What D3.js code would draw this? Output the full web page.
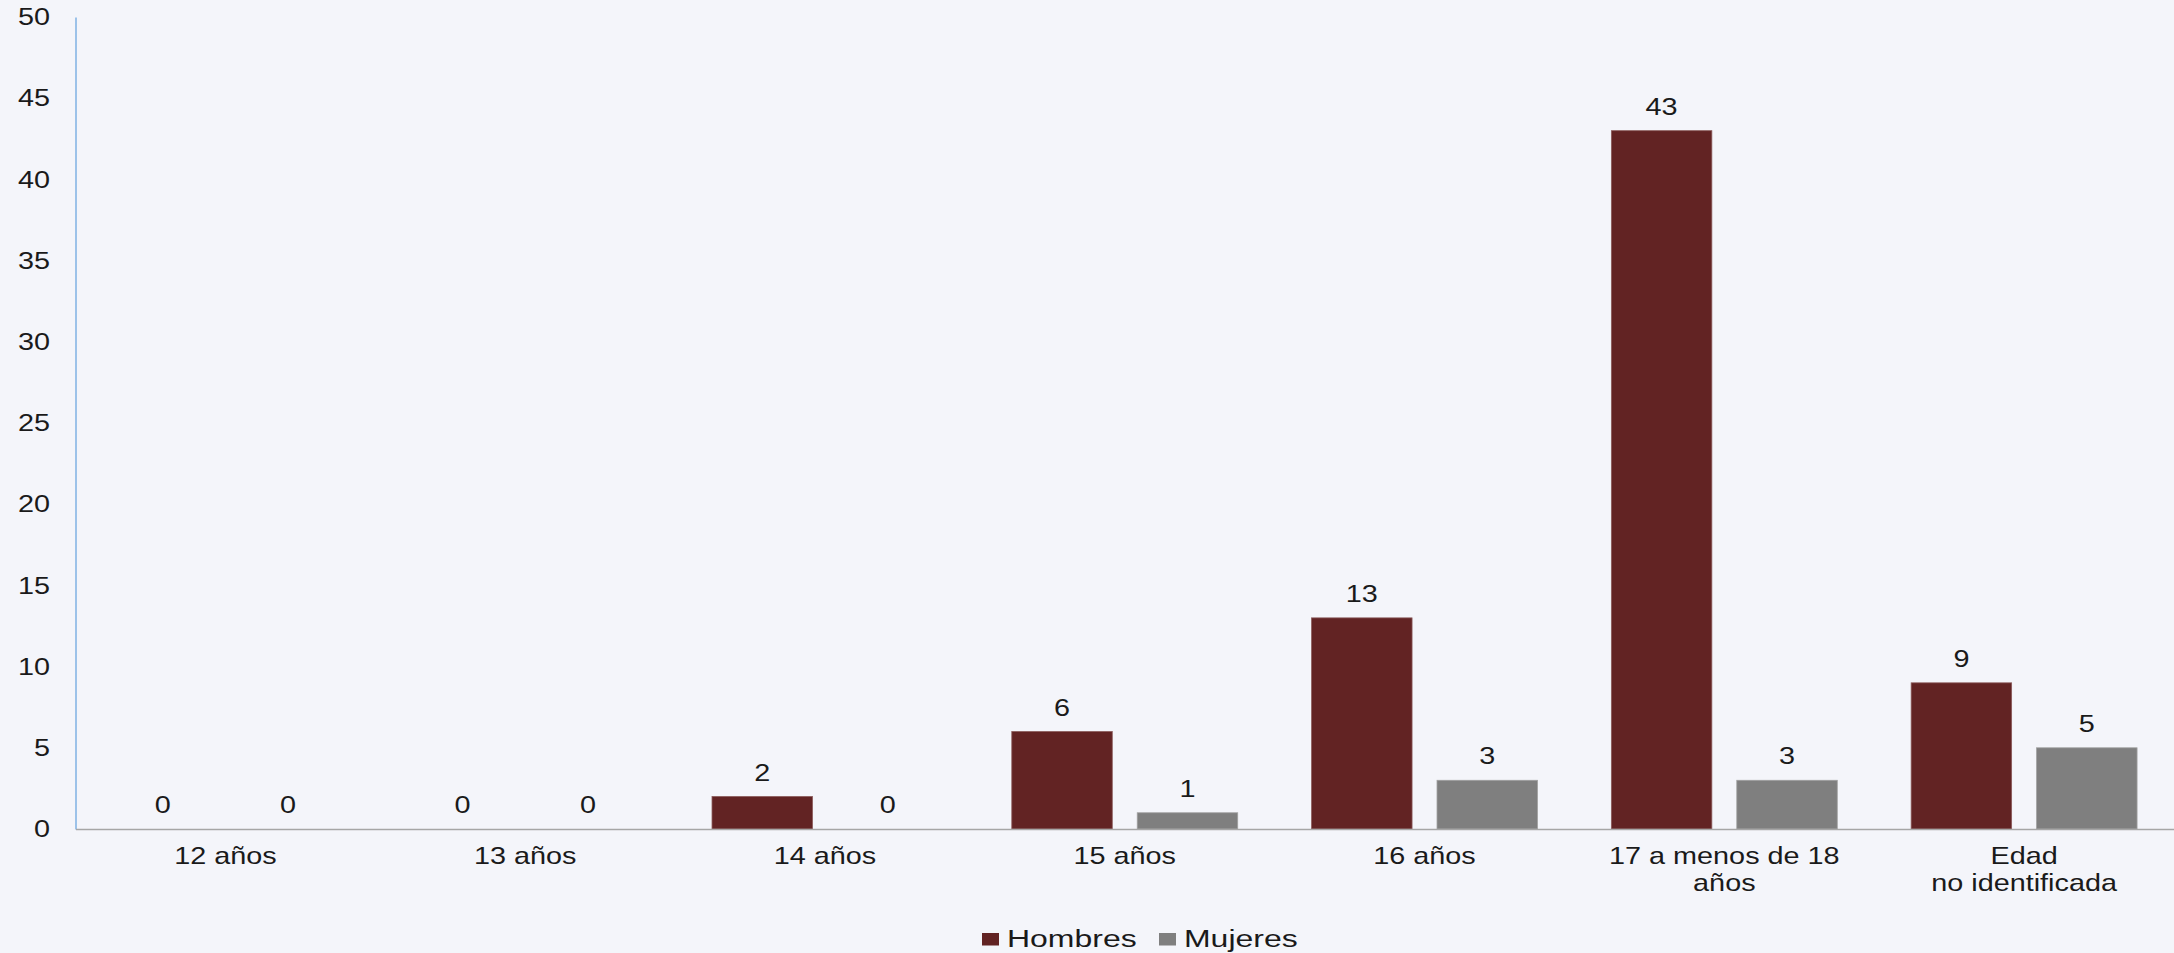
<!DOCTYPE html>
<html>
<head>
<meta charset="utf-8">
<script src="https://cdn.jsdelivr.net/npm/d3@7"></script>
<style>
  html, body { margin: 0; padding: 0; background: #F4F5FA; }
  svg { display: block; font-family: "Liberation Sans", Arial, sans-serif; }
</style>
</head>
<body>
<svg id="chart" width="2174" height="953"></svg>
<script>
const categories = ["12 años", "13 años", "14 años", "15 años", "16 años", "17 a menos de 18\naños", "Edad\nno identificada"];
const seriesNames = ["Hombres", "Mujeres"];
const hombres = [0, 0, 2, 6, 13, 43, 9];
const mujeres = [0, 0, 0, 1, 3, 3, 5];
const yTicks = [0, 5, 10, 15, 20, 25, 30, 35, 40, 45, 50];
const colors = { Hombres: "#622323", Mujeres: "#7F7F7F" };

(function () {
const W = 2174, H = 953;
const mLeft = 75.5, mRight = 2174, mTop = 17, mBottom = 829;
const SX = 1.2;      // horizontal stretch of text seen in the reference
const SXL = 1.36;    // legend text stretch

const svg = d3.select("#chart");
svg.append("rect").attr("width", W).attr("height", H).attr("fill", "#F4F5FA");

const x = d3.scaleBand().domain(categories).range([mLeft, mRight]).paddingInner(0).paddingOuter(0);
const xs = d3.scaleBand().domain(seriesNames).range([0, x.bandwidth()]).paddingInner(0.199).paddingOuter(0.2945);
const y = d3.scaleLinear().domain([0, 50]).range([mBottom, mTop]);

const data = categories.map((c, i) => ({ cat: c, vals: [
  { s: "Hombres", v: hombres[i] }, { s: "Mujeres", v: mujeres[i] } ] }));

// bars
const groups = svg.append("g").selectAll("g").data(data).join("g")
  .attr("transform", d => `translate(${x(d.cat)},0)`);
groups.selectAll("rect").data(d => d.vals).join("rect")
  .attr("x", d => xs(d.s))
  .attr("width", xs.bandwidth())
  .attr("y", d => y(d.v))
  .attr("height", d => y(0) - y(d.v))
  .attr("fill", d => colors[d.s])
  .attr("stroke", d => d.s === "Hombres" ? "#8a5a5a" : "#a0a0a0")
  .attr("stroke-width", d => d.v > 0 ? 0.8 : 0);

// data labels
groups.selectAll("g.lbl").data(d => d.vals).join("g").attr("class", "lbl")
  .attr("transform", d => `translate(${xs(d.s) + xs.bandwidth() / 2},${y(d.v) - 16})`)
  .append("text")
  .attr("transform", `scale(${SX},1)`)
  .attr("text-anchor", "middle")
  .attr("font-size", 24)
  .attr("fill", "#1a1a1a")
  .text(d => d.v);

// y axis
const yAxis = svg.append("g").attr("transform", `translate(${mLeft},0)`)
  .call(d3.axisLeft(y).tickValues(yTicks).tickSize(0).tickPadding(0));
yAxis.select(".domain").attr("stroke", "#7FB1E3").attr("stroke-width", 1.5);
yAxis.selectAll("text")
  .attr("x", -25.5 / SX)
  .attr("transform", `scale(${SX},1)`)
  .attr("font-size", 24)
  .attr("font-family", "Liberation Sans, Arial, sans-serif")
  .attr("fill", "#1a1a1a");

// x axis
const xAxis = svg.append("g").attr("transform", `translate(0,${mBottom})`)
  .call(d3.axisBottom(x).tickSize(0).tickPadding(0).tickFormat(""));
xAxis.select(".domain").attr("stroke", "#A6A6A6").attr("stroke-width", 1.5);
xAxis.selectAll(".tick text").each(function(d) {
  const t = d3.select(this)
    .attr("transform", `scale(${SX},1)`)
    .attr("y", 0).attr("dy", null)
    .attr("font-size", 24)
    .attr("font-family", "Liberation Sans, Arial, sans-serif")
    .attr("fill", "#1a1a1a")
    .attr("text-anchor", "middle");
  const lines = d.split("\n");
  lines.forEach((ln, i) => {
    t.append("tspan").attr("x", 0).attr("y", 35.5 + i * 27).text(ln);
  });
});

// legend
const legend = svg.append("g");
const legX = [982, 1159];
seriesNames.forEach((s, i) => {
  legend.append("rect").attr("x", legX[i]).attr("y", 933).attr("width", 17).attr("height", 12.5).attr("fill", colors[s]);
  legend.append("g").attr("transform", `translate(${legX[i] + 25},946.5)`)
    .append("text").attr("transform", `scale(${SXL},1)`)
    .attr("font-size", 23.5).attr("fill", "#1a1a1a").text(s);
});
})();
</script>
</body>
</html>
